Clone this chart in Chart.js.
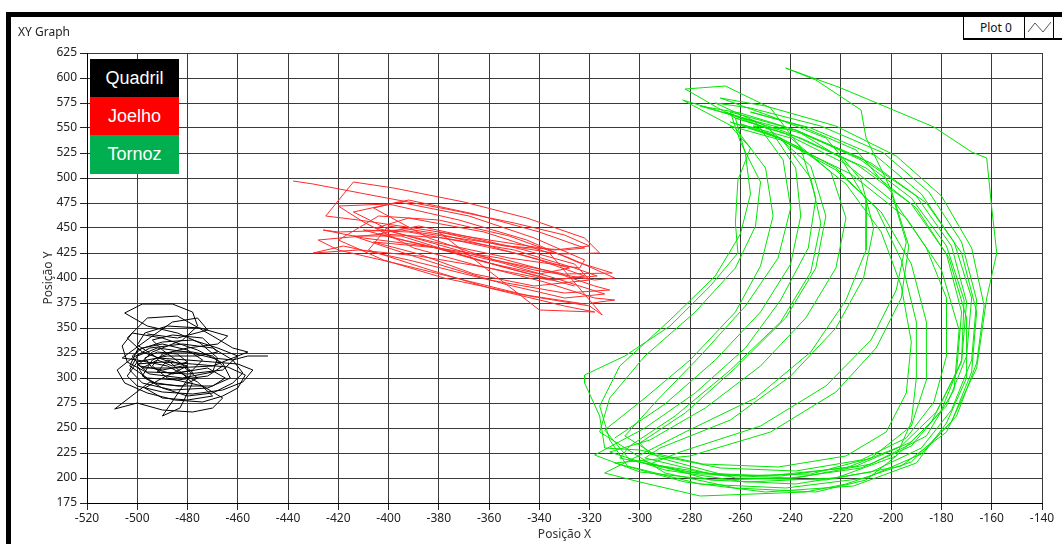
<!DOCTYPE html>
<html>
<head>
<meta charset="utf-8">
<script src="https://cdn.jsdelivr.net/npm/chart.js@4/dist/chart.umd.min.js"></script>
<style>
  html, body { margin:0; padding:0; background:#fff; }
  body { width:1062px; height:544px; position:relative; overflow:hidden; font-family:"Noto Sans", "DejaVu Sans", sans-serif; }
  #wrap { position:absolute; left:0; top:0; width:1062px; height:544px; }
  .frameTop { position:absolute; left:6px; top:12px; width:1056px; height:5px; background:#000; z-index:3; }
  .frameLeft { position:absolute; left:6px; top:12px; width:5px; height:532px; background:#000; z-index:3; }
  .title { position:absolute; left:18px; top:23px; font-size:12px; color:#222; z-index:3; }
  .plotLeg { position:absolute; left:963px; top:16px; height:21px; width:60px; border:1px solid #000; border-bottom:2px solid #000; background:#fff; font-size:12px; color:#111; z-index:3; box-sizing:content-box; }
  .plotLeg span { position:absolute; left:16px; top:2px; }
  .plotIcon { position:absolute; left:1024px; top:16px; width:28px; height:21px; border:1px solid #000; border-bottom:2px solid #000; background:#fff; z-index:3; }
  .plotIcon2 { position:absolute; left:1053px; top:16px; width:20px; height:21px; border:1px solid #000; border-bottom:2px solid #000; background:#fff; z-index:3; }
  .leg { position:absolute; left:90px; width:89px; color:#fff; font-family:"Liberation Sans", Arial, sans-serif; font-size:18px; text-align:center; z-index:3; }
</style>
</head>
<body>
<div id="wrap"><canvas id="c" width="1062" height="544"></canvas></div>
<div class="frameTop"></div>
<div class="frameLeft"></div>
<div class="title">XY Graph</div>
<div class="plotLeg"><span>Plot 0</span></div>
<div class="plotIcon"><svg width="28" height="21"><polyline points="3,15 10,6 18,15 26,5" fill="none" stroke="#555" stroke-width="1"/></svg></div>
<div class="plotIcon2"></div>
<div id="legend"></div>
<script>
// ---- Data ----
const seriesNames = ["Quadril", "Joelho", "Tornoz"];
const legendColors = ["#000000", "#ff0000", "#00b050"];
const lineColors = ["#000000", "#ff2a2a", "#00e600"];

const xTicks = [-520,-500,-480,-460,-440,-420,-400,-380,-360,-340,-320,-300,-280,-260,-240,-220,-200,-180,-160,-140];
const yTicks = [175,200,225,250,275,300,325,350,375,400,425,450,475,500,525,550,575,600,625];

const quadril = [
[-448,322],[-456,322],[-462,318],[-470,320],[-480,326],[-492,330],[-500,322],[-503,308],[-498,295],[-486,288],
[-472,290],[-463,300],[-466,315],[-476,328],[-490,340],[-502,345],[-506,332],[-504,316],[-495,304],[-482,300],
[-470,306],[-468,320],[-475,335],[-484,345],[-496,352],[-505,365],[-498,374],[-486,374],[-478,366],[-476,352],
[-482,338],[-494,326],[-500,312],[-497,300],[-490,290],[-480,282],[-470,285],[-462,295],[-458,305],[-462,318],
[-470,330],[-482,334],[-495,330],[-502,320],[-508,308],[-505,295],[-496,285],[-485,278],[-474,276],[-466,282],
[-460,290],[-457,303],[-464,311],[-478,314],[-490,316],[-500,314],[-496,306],[-484,305],[-472,310],[-465,300],
[-470,292],[-484,292],[-495,296],[-509,269],[-500,275],[-490,268],[-478,266],[-470,270],[-466,280],[-474,292],
[-488,300],[-494,312],[-490,324],[-480,330],[-468,334],[-464,342],[-475,350],[-488,352],[-497,345],[-500,333],
[-492,320],[-480,318],[-470,316],[-460,314],[-454,308],[-458,296],[-466,288],[-478,284],[-490,286],[-500,292],
[-504,302],[-500,316],[-488,322],[-476,322],[-468,326],[-474,340],[-486,343],[-494,338],[-490,328],[-478,306],
[-490,262],[-483,270],[-478,295],[-487,316],[-498,326],[-504,340],[-496,360],[-484,362],[-479,355],[-470,342],
[-462,330],[-456,326],[-470,312],[-486,310],[-498,310],
[-492,318],[-486,312],[-480,316],[-484,324],[-492,326],[-497,320],[-494,310],[-486,304],[-478,308],[-474,318],
[-480,328],[-490,334],[-498,330],[-502,322],[-499,312],[-490,308],[-482,312],[-476,300],[-482,292],[-492,294],
[-498,302],[-494,318],[-486,326],[-478,326],[-470,322],[-466,312],[-472,302],[-484,298],[-496,300],[-503,312],
[-500,328],[-490,336],[-478,338],[-468,330],[-460,322],[-466,308],[-480,304],[-492,306],[-488,318],[-480,312],
[-490,300],[-497,290],[-490,280],[-480,278],[-470,282],[-476,296],[-488,312],[-500,318],[-506,320],[-494,342],
[-486,356],[-476,360],[-472,348],[-484,340],[-496,344]
];

const joelho = [
[-438,497],[-430,494],[-405,482],[-375,468],[-350,455],[-330,443],[-320,432],[-334,428],[-360,438],[-390,450],
[-412,458],[-425,462],[-414,496],[-398,490],[-370,476],[-345,460],[-322,440],[-316,425],[-332,424],[-362,436],
[-395,448],[-420,446],[-426,448],[-410,440],[-385,432],[-356,420],[-332,404],[-318,392],[-312,388],[-330,385],
[-360,398],[-392,418],[-418,432],[-430,425],[-412,428],[-388,422],[-360,410],[-338,396],[-318,380],[-310,378],
[-322,374],[-348,384],[-378,400],[-402,418],[-420,438],[-404,462],[-380,458],[-352,442],[-328,420],[-310,400],
[-318,398],[-342,408],[-370,426],[-398,446],[-414,466],[-396,476],[-368,462],[-342,440],[-322,418],[-324,410],
[-352,420],[-382,436],[-405,450],[-392,460],[-362,446],[-336,425],[-315,363],[-320,372],[-344,382],[-370,398],
[-396,414],[-420,428],[-428,438],[-402,444],[-378,440],[-350,428],[-326,410],[-317,402],[-336,398],[-364,412],
[-390,430],[-410,456],[-420,472],[-400,474],[-372,458],[-345,438],[-325,416],[-311,405],[-330,404],[-358,418],
[-384,440],[-406,470],[-392,478],[-366,464],[-340,446],[-322,430],[-330,428],[-354,432],[-380,446],[-340,368],
[-318,366],[-330,372],[-360,390],[-386,410],[-408,428],
[-400,452],[-380,444],[-360,432],[-340,418],[-322,402],[-334,398],[-356,412],[-378,428],[-398,440],[-410,448],
[-392,446],[-370,436],[-348,424],[-328,410],[-340,404],[-362,416],[-384,432],[-404,444],[-388,452],[-366,440],
[-346,428],[-326,414],[-320,398],[-342,392],[-366,404],[-388,424],[-406,436],[-380,430],[-356,416],[-334,400],
[-314,384],[-330,380],[-354,394],[-378,412],[-400,430],[-414,442],[-395,442],[-372,424],[-350,408],[-326,392]
];

const tornoz = [
[-300,218],[-272,198],[-238,194],[-208,206],[-188,230],[-176,268],[-168,318],[-166,378],[-172,436],[-185,486],[-203,525],[-228,552],[-256,570],[-270,575],[-250,552],[-232,512],[-226,462],[-230,410],[-242,360],[-262,310],[-282,265],[-300,235],
[-296,224],[-268,210],[-238,207],[-212,218],[-194,240],[-183,276],[-178,322],[-178,380],[-186,430],[-198,474],[-218,514],[-242,544],[-262,560],[-258,524],[-256,484],[-260,444],[-270,402],[-288,358],[-308,312],[-316,272],[-312,238],
[-305,212],[-276,194],[-242,190],[-210,200],[-188,224],[-174,262],[-166,315],[-163,372],[-168,430],[-180,482],[-198,522],[-222,552],[-250,572],[-268,580],[-246,560],[-226,540],[-212,498],[-207,450],[-211,400],[-222,350],[-240,302],[-264,258],[-292,230],
[-298,220],[-270,203],[-240,200],[-212,210],[-192,232],[-180,268],[-172,318],[-171,378],[-178,432],[-192,480],[-212,518],[-238,548],[-260,565],[-276,572],[-254,556],[-243,518],[-240,470],[-245,420],[-258,372],[-276,322],[-293,278],[-306,242],
[-292,220],[-262,200],[-226,198],[-196,212],[-178,246],[-166,310],[-162,380],[-158,425],[-160,470],[-162,520],[-168,526],[-183,551],[-220,590],[-242,610],[-230,598],[-212,568],[-210,540],[-200,488],[-193,432],[-196,380],[-206,330],[-222,286],[-248,246],[-280,222],
[-310,215],[-282,196],[-250,186],[-215,192],[-190,215],[-178,255],[-170,300],[-170,360],[-177,420],[-190,470],[-210,510],[-236,540],[-262,560],[-282,589],[-266,592],[-248,570],[-236,530],[-230,480],[-233,430],[-244,378],[-258,330],[-278,285],[-298,250],
[-318,223],[-300,206],[-270,198],[-238,200],[-208,214],[-186,242],[-175,288],[-173,348],[-180,408],[-194,460],[-216,504],[-244,538],[-264,552],[-256,530],[-261,498],[-262,455],[-261,425],[-272,392],[-288,352],[-306,322],[-322,303],[-322,295],[-316,262],[-314,230],
[-300,228],[-275,214],[-245,211],[-218,222],[-202,246],[-194,285],[-192,336],[-196,392],[-204,446],[-218,494],[-236,530],[-255,552],[-238,548],[-220,520],[-210,478],[-210,428],[-218,378],[-232,326],[-254,280],[-282,246],
[-314,205],[-300,196],[-276,182],[-234,186],[-218,194],[-192,216],[-176,256],[-168,306],[-166,366],[-172,425],[-186,475],[-208,515],[-236,545],[-262,562],[-283,578],[-262,550],[-250,510],[-247,462],[-252,412],[-262,366],[-280,318],[-298,280],[-314,248],
[-304,218],[-276,204],[-244,202],[-214,212],[-192,236],[-178,272],[-170,322],[-168,380],[-175,436],[-188,484],[-206,522],[-232,550],[-256,566],[-236,552],[-214,528],[-200,486],[-194,436],[-198,388],[-208,338],[-226,292],[-252,252],[-284,226],
[-296,214],[-266,202],[-232,204],[-208,220],[-192,252],[-186,298],[-186,356],[-192,414],[-204,466],[-222,508],[-245,540],[-264,556],[-244,540],[-232,500],[-228,455],[-232,406],[-244,356],[-264,308],[-286,262],[-304,232],
[-308,220],[-282,206],[-250,202],[-218,210],[-196,232],[-182,266],[-172,316],[-170,376],[-176,432],[-190,482],[-212,520],[-238,548],[-264,566],[-260,536],[-252,496],[-254,452],[-262,410],[-278,366],[-298,322],[-312,280],[-316,246],
[-290,205],[-262,190],[-230,186],[-210,198],[-198,222],[-192,256],[-190,300],[-190,356],[-196,418],[-206,470],[-222,510],[-244,540],[-260,554],[-240,540],[-224,506],[-218,460],[-222,410],[-234,360],[-252,312],[-274,270],[-296,238],
[-312,226],[-290,208],[-258,196],[-222,200],[-198,222],[-184,256],[-174,306],[-172,366],[-178,424],[-192,474],[-214,514],[-242,546],[-266,566],[-248,548],[-238,510],[-236,462],[-240,414],[-252,366],[-270,318],[-290,274],[-310,240]
];

const seriesData = [quadril, joelho, tornoz];

// ---- Legend (real text) ----
const legTops = [59, 97, 135];
const legHeights = [38, 38, 39];
const legEl = document.getElementById('legend');
seriesNames.forEach((n, i) => {
  const d = document.createElement('div');
  d.className = 'leg';
  d.style.top = legTops[i] + 'px';
  d.style.height = legHeights[i] + 'px';
  d.style.lineHeight = legHeights[i] + 'px';
  d.style.background = legendColors[i];
  d.textContent = n;
  legEl.appendChild(d);
});

// ---- Chart ----
const gridColor = '#3a3a3a';
const tickFont = { family: '"Noto Sans", "DejaVu Sans", sans-serif', size: 12 };

new Chart(document.getElementById('c'), {
  type: 'scatter',
  data: {
    datasets: seriesNames.map((n, i) => ({
      label: n,
      data: seriesData[i].map(p => ({ x: p[0], y: p[1] })),
      showLine: true,
      borderColor: lineColors[i],
      backgroundColor: lineColors[i],
      borderWidth: 1,
      pointRadius: 0,
      tension: 0
    }))
  },
  options: {
    responsive: false,
    animation: false,
    layout: { padding: { top: 53, right: 20, left: 0, bottom: 0 } },
    plugins: { legend: { display: false }, tooltip: { enabled: false } },
    scales: {
      x: {
        type: 'linear',
        min: -520, max: -140,
        afterBuildTicks: s => { s.ticks = xTicks.map(v => ({ value: v })); },
        afterFit: s => { s.height = 41; },
        ticks: { font: tickFont, color: '#222', padding: 1, maxRotation: 0, autoSkip: false, callback: v => String(v) },
        grid: { color: gridColor, lineWidth: 1, tickLength: 7, tickColor: '#222' },
        border: { color: '#000', width: 1 },
        title: { display: true, text: 'Posição X', font: tickFont, color: '#333', padding: { top: 0, bottom: 2 } }
      },
      y: {
        type: 'linear',
        min: 175, max: 625,
        afterBuildTicks: s => { s.ticks = yTicks.map(v => ({ value: v })); },
        afterFit: s => { s.width = 87; },
        ticks: { font: tickFont, color: '#222', padding: 3, autoSkip: false, callback: v => String(v) },
        grid: { color: gridColor, lineWidth: 1, tickLength: 7, tickColor: '#222' },
        border: { color: '#000', width: 1 },
        title: { display: true, text: 'Posição Y', font: tickFont, color: '#333', padding: { top: 41, bottom: 0 } }
      }
    }
  }
});
</script>
</body>
</html>
